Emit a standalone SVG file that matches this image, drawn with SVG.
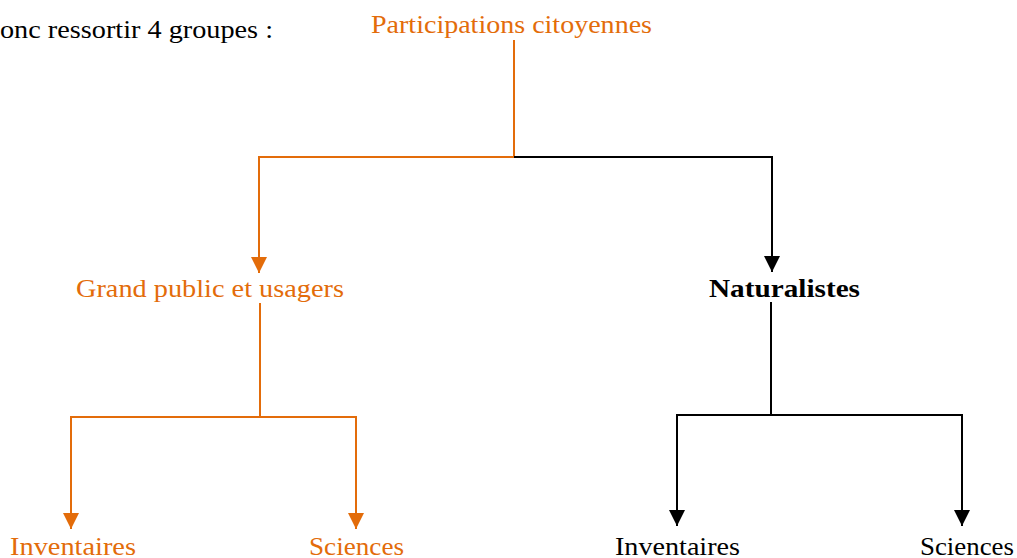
<svg xmlns="http://www.w3.org/2000/svg" width="1017" height="558" viewBox="0 0 1017 558">
<style>
text{font-family:'Liberation Serif','DejaVu Serif',serif;font-size:25px}
.o{fill:#E36C0A}
.k{fill:#000}
.b{font-weight:bold}
.lo{stroke:#E36C0A;stroke-width:2;fill:none}
.lk{stroke:#000;stroke-width:2;fill:none}
</style>
<defs>
<marker id="ao" markerUnits="userSpaceOnUse" markerWidth="16" markerHeight="16" viewBox="0 0 16 16" refX="8" refY="16" orient="0"><path d="M0,0 L16,0 L8,16 Z" fill="#E36C0A"/></marker>
<marker id="ak" markerUnits="userSpaceOnUse" markerWidth="16" markerHeight="16" viewBox="0 0 16 16" refX="8" refY="16" orient="0"><path d="M0,0 L16,0 L8,16 Z" fill="#000"/></marker>
</defs>
<text x="0" y="38" class="k" font-family="Liberation Serif, DejaVu Serif, serif" textLength="273" lengthAdjust="spacingAndGlyphs">onc ressortir 4 groupes :</text>
<g id="connectors">
<path class="lo" d="M514,40 V157 H259 V273" marker-end="url(#ao)"/>
<path class="lk" d="M514,157 H772 V272" marker-end="url(#ak)"/>
<path class="lo" d="M260,303 V417 H71 V529" marker-end="url(#ao)"/>
<path class="lo" d="M260,417 H356 V529" marker-end="url(#ao)"/>
<path class="lk" d="M771,302 V415 H677 V526" marker-end="url(#ak)"/>
<path class="lk" d="M771,415 H962 V526" marker-end="url(#ak)"/>
</g>
<g id="participations"><text x="371" y="33" class="o" textLength="281" lengthAdjust="spacingAndGlyphs">Participations citoyennes</text></g>
<g id="grandpublic"><text x="76" y="297" class="o" textLength="268" lengthAdjust="spacingAndGlyphs">Grand public et usagers</text></g>
<g id="naturalistes"><text x="709" y="297" class="k b" textLength="151" lengthAdjust="spacingAndGlyphs">Naturalistes</text></g>
<g id="inventaires1"><text x="10" y="555" class="o" textLength="126" lengthAdjust="spacingAndGlyphs">Inventaires</text></g>
<g id="sciences1"><text x="309" y="555" class="o" textLength="95" lengthAdjust="spacingAndGlyphs">Sciences</text></g>
<g id="inventaires2"><text x="615" y="555" class="k" textLength="125" lengthAdjust="spacingAndGlyphs">Inventaires</text></g>
<g id="sciences2"><text x="920" y="555" class="k" textLength="94" lengthAdjust="spacingAndGlyphs">Sciences</text></g>
</svg>
